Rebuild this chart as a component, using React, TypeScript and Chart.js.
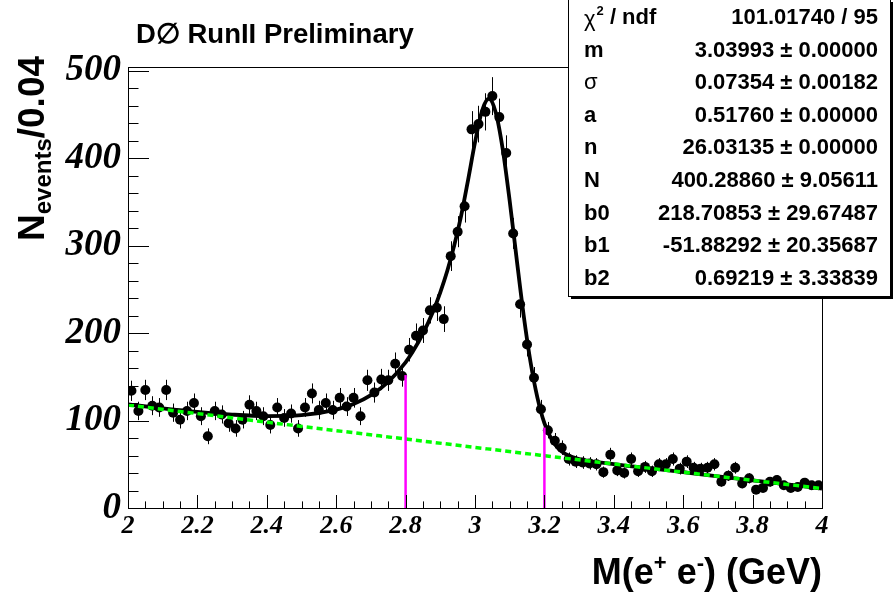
import React, { useEffect, useRef } from "react";
import { Chart, registerables } from "chart.js";

Chart.register(...registerables);

// ---------------- data ----------------
const HIST_MIN = 2.0;
const HIST_MAX = 4.0;
const BIN_WIDTH = 0.02;

// events per bin (100 bins from 2.00 to 4.00 GeV)
const counts = [
  134, 111, 135, 117, 115, 135, 109, 101, 111, 120,
  105, 82, 111, 107, 97, 91, 101, 118, 111, 105,
  95, 115, 103, 108, 91, 115, 131, 112, 120, 112,
  126, 116, 126, 105, 146, 132, 147, 146, 165, 151,
  181, 197, 203, 226, 229, 216, 288, 316, 345, 433,
  439, 453, 471, 447, 406, 314, 233, 187, 149, 113,
  89, 77, 69, 56, 53, 52, 51, 50, 41, 61,
  43, 40, 56, 42, 47, 42, 50, 50, 56, 45,
  53, 46, 45, 46, 50, 30, 37, 46, 28, 34,
  21, 23, 30, 32, 26, 23, 24, 29, 26, 26,
];

// total fit curve (signal + background)
const fitX = [
  2.0, 2.1, 2.2, 2.3, 2.4, 2.5, 2.6, 2.65, 2.7, 2.75, 2.8, 2.82, 2.85, 2.88,
  2.9, 2.92, 2.94, 2.96, 2.98, 3.0, 3.02, 3.04, 3.06, 3.08, 3.1, 3.12, 3.14,
  3.16, 3.18, 3.2, 3.22, 3.24, 3.26, 3.3, 3.4, 3.5, 3.6, 3.7, 3.8, 3.9, 4.0,
];
const fitY = [
  118.4, 114.0, 110.0, 106.8, 105.1, 106.1, 112.4, 118.9, 129.1, 144.3, 166.6,
  178.3, 199.3, 225.6, 246.7, 271, 300, 334, 375, 418, 454, 468, 452, 410, 351,
  285, 221, 167, 126, 97, 79, 68, 62, 56, 50.3, 45.6, 40.9, 36.2, 31.6, 26.9,
  22.3,
];

// background component
const bgX = [2.0, 2.25, 2.5, 2.75, 3.0, 3.25, 3.5, 3.75, 4.0];
const bgY = [117.7, 105.5, 93.3, 81.3, 69.3, 57.4, 45.6, 33.9, 22.3];

// mass window markers
const windowEdges = [2.8, 3.2];
const windowTops = [152, 92];

// axis tick values
const yTickValues = [0, 100, 200, 300, 400, 500];
const xTickValues = [2, 2.2, 2.4, 2.6, 2.8, 3, 3.2, 3.4, 3.6, 3.8, 4];

// fit statistics box
const statNames = ["χ2 / ndf", "m", "σ", "a", "n", "N", "b0", "b1", "b2"];
const statValues = [
  "101.01740 / 95",
  "3.03993 ± 0.00000",
  "0.07354 ± 0.00182",
  "0.51760 ± 0.00000",
  "26.03135 ± 0.00000",
  "400.28860 ± 9.05611",
  "218.70853 ± 29.67487",
  "-51.88292 ± 20.35687",
  "0.69219 ± 3.33839",
];

const TITLE = "D∅ RunII Preliminary";

// ---------------- styles ----------------
const SANS = '"Liberation Sans", Arial, Helvetica, sans-serif';
const SERIF = '"Liberation Serif", "Times New Roman", serif';

const rootPlugin = {
  id: "rootStyle",
  beforeDatasetsDraw(chart: any) {
    const { ctx, scales } = chart;
    const x = scales.x;
    const y = scales.y;
    ctx.save();
    ctx.strokeStyle = "#000";
    ctx.lineWidth = 1;
    counts.forEach((c, i) => {
      const xc = HIST_MIN + BIN_WIDTH * (i + 0.5);
      const err = Math.sqrt(c);
      const px = Math.round(x.getPixelForValue(xc)) + 0.5;
      ctx.beginPath();
      ctx.moveTo(px, y.getPixelForValue(c + err));
      ctx.lineTo(px, y.getPixelForValue(Math.max(0, c - err)));
      ctx.stroke();
    });
    ctx.restore();
  },
  afterDraw(chart: any) {
    const { ctx, chartArea, scales } = chart;
    const x = scales.x;
    const y = scales.y;
    const { left, right, top, bottom } = chartArea;
    ctx.save();

    // frame
    ctx.strokeStyle = "#000";
    ctx.lineWidth = 1;
    ctx.strokeRect(left + 0.5, top + 0.5, right - left, bottom - top);

    // x ticks (inside)
    ctx.beginPath();
    for (let k = 0; k <= 40; k++) {
      const v = HIST_MIN + k * 0.05;
      const px = Math.round(x.getPixelForValue(v)) + 0.5;
      const len = k % 4 === 0 ? 13 : 6.6;
      ctx.moveTo(px, bottom);
      ctx.lineTo(px, bottom - len);
    }
    // y ticks (inside)
    for (let k = 0; k <= 25; k++) {
      const v = k * 20;
      const py = Math.round(y.getPixelForValue(v)) + 0.5;
      const len = k % 5 === 0 ? 21 : 10.5;
      ctx.moveTo(left, py);
      ctx.lineTo(left + len, py);
    }
    ctx.stroke();

    // title
    ctx.fillStyle = "#000";
    ctx.textBaseline = "alphabetic";
    ctx.textAlign = "left";
    ctx.font = `bold 27.5px ${SANS}`;
    ctx.fillText(TITLE, 136, 43);

    // x-axis title: M(e+ e-) (GeV)
    const big = `bold 36px ${SANS}`;
    const sup = `bold 22px ${SANS}`;
    const parts: [string, string, number][] = [
      ["M(e", big, 0],
      ["+", sup, -14],
      [" e", big, 0],
      ["-", sup, -14],
      [") (GeV)", big, 0],
    ];
    let total = 0;
    parts.forEach(([t, f]) => {
      ctx.font = f;
      total += ctx.measureText(t).width;
    });
    let cx = right - total;
    parts.forEach(([t, f, dy]) => {
      ctx.font = f;
      ctx.fillText(t, cx, 584 + dy);
      cx += ctx.measureText(t).width;
    });

    // y-axis title: N_events/0.04 (rotated)
    ctx.save();
    ctx.translate(44, 241);
    ctx.rotate(-Math.PI / 2);
    const yParts: [string, string, number][] = [
      ["N", `bold 37px ${SANS}`, 0],
      ["events", `bold 24px ${SANS}`, 7],
      ["/0.04", `bold 37px ${SANS}`, 0],
    ];
    let cy = 0;
    yParts.forEach(([t, f, dy]) => {
      ctx.font = f;
      ctx.fillText(t, cy, dy);
      cy += ctx.measureText(t).width;
    });
    ctx.restore();

    // stats box
    const bx = 568;
    const by = -1;
    const bw = 322;
    const bh = 297;
    ctx.fillStyle = "#000";
    ctx.fillRect(bx + 3, by + 3, bw, bh);
    ctx.fillStyle = "#fff";
    ctx.fillRect(bx, by, bw, bh);
    ctx.strokeStyle = "#000";
    ctx.lineWidth = 1;
    ctx.strokeRect(bx + 0.5, by + 0.5, bw, bh);

    ctx.fillStyle = "#000";
    ctx.textBaseline = "middle";
    const rowTop = 18;
    const rowStep = 32.6;
    const fs = 22;
    statNames.forEach((name, i) => {
      const ry = rowTop + i * rowStep;
      ctx.textAlign = "left";
      if (i === 0) {
        ctx.font = `${fs}px ${SANS}`;
        ctx.fillText("χ", 584, ry + 2);
        let w = ctx.measureText("χ").width;
        ctx.font = `bold 13px ${SANS}`;
        ctx.fillText("2", 584 + w + 1, ry - 7);
        w += ctx.measureText("2").width + 1;
        ctx.font = `bold ${fs}px ${SANS}`;
        ctx.fillText(" / ndf", 584 + w, ry);
      } else if (name === "σ") {
        ctx.font = `${fs}px ${SANS}`;
        ctx.fillText(name, 584, ry);
      } else {
        ctx.font = `bold ${fs}px ${SANS}`;
        ctx.fillText(name, 584, ry);
      }
      ctx.textAlign = "right";
      ctx.font = `bold ${fs}px ${SANS}`;
      ctx.fillText(statValues[i], 878, ry);
    });

    ctx.restore();
  },
};

export default function App() {
  const ref = useRef<HTMLCanvasElement | null>(null);

  useEffect(() => {
    if (!ref.current) return;
    const binCenters = counts.map((_, i) => HIST_MIN + BIN_WIDTH * (i + 0.5));
    const windowSets = windowEdges.map((e, i) => ({
      label: `window${i}`,
      data: [
        { x: e, y: 0 },
        { x: e, y: windowTops[i] },
      ],
      borderColor: "#ff00ff",
      borderWidth: 2.5,
      pointRadius: 0,
      showLine: true,
      order: 0,
    }));

    const chart = new Chart(ref.current, {
      type: "line",
      data: {
        datasets: [
          ...windowSets,
          {
            label: "background",
            data: bgX.map((v, i) => ({ x: v, y: bgY[i] })),
            borderColor: "#00ff00",
            borderWidth: 3.5,
            borderDash: [6, 4],
            borderCapStyle: "butt",
            pointRadius: 0,
            cubicInterpolationMode: "monotone",
            order: 1,
          },
          {
            label: "fit",
            data: fitX.map((v, i) => ({ x: v, y: fitY[i] })),
            borderColor: "#000",
            borderWidth: 3.8,
            pointRadius: 0,
            cubicInterpolationMode: "monotone",
            order: 2,
          },
          {
            label: "data",
            data: counts.map((c, i) => ({ x: binCenters[i], y: c })),
            showLine: false,
            pointRadius: 5,
            pointBackgroundColor: "#000",
            pointBorderWidth: 0,
            borderColor: "#000",
            order: 3,
          },
        ] as any,
      },
      options: {
        animation: false,
        responsive: false,
        maintainAspectRatio: false,
        devicePixelRatio: 1,
        events: [],
        layout: { padding: { top: 67, right: 72, bottom: 0, left: 0 } },
        plugins: {
          legend: { display: false },
          tooltip: { enabled: false },
          title: { display: false },
        },
        scales: {
          x: {
            type: "linear",
            min: HIST_MIN,
            max: HIST_MAX,
            grid: { display: false, drawTicks: false },
            border: { display: false },
            afterBuildTicks: (s: any) => {
              s.ticks = xTickValues.map((v) => ({ value: v }));
            },
            ticks: {
              autoSkip: false,
              maxRotation: 0,
              padding: 3,
              color: "#000",
              font: { family: SERIF, size: 26, weight: "bold", style: "italic" },
              callback: (v: any) => String(Number(Number(v).toFixed(1))),
            },
            afterFit: (s: any) => {
              s.height = 86;
            },
          },
          y: {
            type: "linear",
            min: 0,
            max: 504.3,
            grid: { display: false, drawTicks: false },
            border: { display: false },
            afterBuildTicks: (s: any) => {
              s.ticks = yTickValues.map((v) => ({ value: v }));
            },
            ticks: {
              autoSkip: false,
              padding: 7,
              color: "#000",
              font: { family: SERIF, size: 37, weight: "bold", style: "italic" },
              callback: (v: any) => String(Math.round(Number(v))),
            },
            afterFit: (s: any) => {
              s.width = 128;
            },
          },
        },
      } as any,
      plugins: [rootPlugin],
    });
    return () => chart.destroy();
  }, []);

  return (
    <div
      style={{
        position: "absolute",
        left: 0,
        top: 0,
        width: 894,
        height: 594,
        background: "#fff",
      }}
    >
      <canvas ref={ref} width={894} height={594} />
    </div>
  );
}
